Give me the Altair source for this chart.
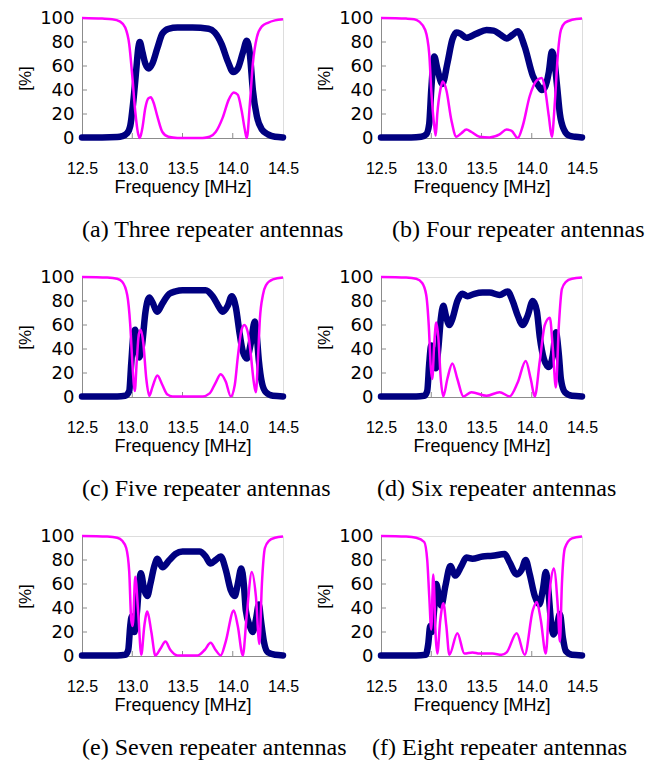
import altair as alt
import pandas as pd

NAVY = "#000080"
MAGENTA = "#ff00ff"
GRAY = "#8c8c8c"

X_TICKS = [12.5, 13.0, 13.5, 14.0, 14.5]
Y_TICKS = [0, 20, 40, 60, 80, 100]
X_INNER = [13.0, 13.5, 14.0]
Y_INNER = [20, 40, 60, 80]

captions = [
    "(a) Three repeater antennas",
    "(b) Four repeater antennas",
    "(c) Five repeater antennas",
    "(d) Six repeater antennas",
    "(e) Seven repeater antennas",
    "(f) Eight repeater antennas",
]
caption_dx = [0, 11, 0, -4, 0, -9]

# (a) three repeaters: transmission (navy) and reflection (magenta)
fa_t = [12.5, 12.7, 12.85, 12.9, 12.95, 12.98, 13.01, 13.04, 13.06, 13.075, 13.1, 13.13, 13.165, 13.2, 13.25, 13.3,
        13.36, 13.45, 13.6, 13.76, 13.82, 13.89, 13.95, 14.005, 14.05, 14.1, 14.14, 14.17, 14.2, 14.24, 14.29, 14.35, 14.42, 14.5]
va_t = [0.5, 0.5, 0.8, 1.5, 4, 10, 30, 57, 75, 80, 72, 62, 58, 62, 75, 87,
        91, 92, 92, 91, 88, 78, 64, 55, 58, 71, 81, 70, 40, 18, 7, 3, 1, 0.5]
fa_r = [12.5, 12.7, 12.8, 12.88, 12.93, 12.97, 13.0, 13.03, 13.055, 13.075, 13.1, 13.13, 13.16, 13.185, 13.21, 13.25,
        13.3, 13.36, 13.45, 13.7, 13.77, 13.83, 13.9, 13.96, 14.01, 14.05, 14.09, 14.12, 14.14, 14.17, 14.2, 14.24,
        14.29, 14.35, 14.42, 14.5]
va_r = [100, 99.5, 99, 97, 92, 78, 52, 22, 5, 0, 8, 25, 33, 34, 30, 18,
        5, 1, 0, 0, 1, 5, 17, 32, 38, 36, 22, 7, 0, 28, 62, 84,
        93, 96, 98, 99]

# (b) four repeaters
fb_t = [12.5, 12.8, 12.9, 12.95, 12.98, 13.0, 13.03, 13.06, 13.11, 13.16, 13.21, 13.25, 13.29, 13.35, 13.45, 13.55,
        13.62, 13.69, 13.75, 13.81, 13.86, 13.93, 14.01, 14.07, 14.1, 14.13, 14.17, 14.2, 14.22, 14.25, 14.28, 14.32,
        14.37, 14.43, 14.5]
vb_t = [0.5, 0.5, 1, 3, 12, 40, 68, 58, 45, 62, 82, 88, 87, 83.5, 87, 90,
        89.5, 86, 83, 86, 89, 76, 52, 43, 40, 42, 55, 72, 68, 45, 20, 7,
        2, 1, 0.5]
fb_r = [12.5, 12.75, 12.83, 12.88, 12.94, 12.98, 13.0, 13.03, 13.045, 13.06, 13.09, 13.115, 13.15, 13.2, 13.25, 13.3,
        13.35, 13.4, 13.48, 13.58, 13.68, 13.75, 13.8, 13.86, 13.91, 13.98, 14.05, 14.1, 14.13, 14.17, 14.2, 14.23,
        14.26, 14.29, 14.33, 14.4, 14.5]
vb_r = [100, 99.5, 99, 97, 90, 70, 40, 10, 2, 20, 40, 47, 40, 15, 1, 4,
        7, 5, 1, 0.5, 3, 7, 6, 0, 10, 35, 48, 50, 42, 18, 1, 30,
        70, 90, 96, 98.5, 99.5]

# (c) five repeaters
fc_t = [12.5, 12.85, 12.93, 12.97, 12.99, 13.01, 13.03, 13.05, 13.07, 13.1, 13.13, 13.17, 13.2, 13.25, 13.3, 13.37,
        13.43, 13.5, 13.73, 13.8, 13.87, 13.9, 13.95, 13.99, 14.03, 14.07, 14.1, 14.14, 14.18, 14.22, 14.24, 14.26,
        14.29, 14.33, 14.4, 14.5]
vc_t = [0.5, 0.5, 1, 5, 28, 50, 56, 42, 33, 45, 70, 83, 79, 71, 78, 86,
        88, 89, 89, 84, 74, 71, 76, 84, 75, 52, 38, 32, 45, 63, 50, 30,
        12, 4, 1, 0.5]
fc_r = [12.5, 12.75, 12.85, 12.9, 12.95, 12.98, 13.0, 13.025, 13.045, 13.065, 13.085, 13.11, 13.14, 13.17, 13.2, 13.25,
        13.3, 13.35, 13.4, 13.7, 13.77, 13.83, 13.88, 13.93, 13.98, 14.02, 14.05, 14.085, 14.115, 14.15, 14.18, 14.21,
        14.23, 14.25, 14.27, 14.3, 14.33, 14.4, 14.5]
vc_r = [100, 99.5, 98.5, 96, 85, 60, 30, 5, 30, 52, 56, 45, 15, 1, 8, 18,
        10, 2, 0.5, 0.5, 3, 12, 19, 13, 0.5, 10, 33, 55, 60, 54, 35, 12,
        4, 30, 65, 85, 93, 98, 99.5]

# (d) six repeaters
fd_t = [12.5, 12.85, 12.93, 12.96, 12.98, 13.0, 13.02, 13.045, 13.07, 13.095, 13.12, 13.145, 13.18, 13.21, 13.26, 13.31,
        13.36, 13.43, 13.51, 13.58, 13.68, 13.76, 13.81, 13.86, 13.91, 13.96, 14.01, 14.05, 14.08, 14.12, 14.17, 14.21,
        14.24, 14.27, 14.29, 14.33, 14.4, 14.5]
vd_t = [0.5, 0.5, 1, 5, 28, 43, 32, 24, 40, 65, 76, 68, 60, 65, 80, 86,
        84, 86, 87, 87, 85, 88, 80, 68, 60, 68, 80, 72, 50, 32, 25, 35,
        54, 35, 15, 4, 1, 0.5]
fd_r = [12.5, 12.75, 12.85, 12.91, 12.95, 12.975, 12.995, 13.01, 13.03, 13.05, 13.07, 13.095, 13.12, 13.16, 13.21, 13.26,
        13.32, 13.4, 13.55, 13.68, 13.78, 13.86, 13.94, 13.99, 14.03, 14.08, 14.13, 14.18, 14.21, 14.24, 14.27, 14.3,
        14.34, 14.4, 14.5]
vd_r = [100, 99.5, 98.5, 95, 85, 60, 25, 15, 45, 62, 50, 15, 0.5, 15, 28, 15,
        0.5, 4, 1, 4, 0.5, 12, 30, 15, 0.5, 30, 60, 66, 40, 8, 60, 90,
        96, 98.5, 99.5]

# (e) seven repeaters
fe_t = [12.5, 12.85, 12.93, 12.96, 12.98, 12.995, 13.02, 13.045, 13.07, 13.085, 13.12, 13.15, 13.18, 13.22, 13.25, 13.3,
        13.37, 13.43, 13.5, 13.67, 13.73, 13.78, 13.83, 13.88, 13.93, 13.98, 14.02, 14.05, 14.085, 14.11, 14.13, 14.17,
        14.2, 14.23, 14.26, 14.28, 14.31, 14.35, 14.42, 14.5]
ve_t = [0.5, 0.5, 1, 5, 25, 33, 20, 35, 62, 69, 55, 50, 60, 75, 81, 74,
        80, 85, 87, 87, 83, 77, 80, 83, 72, 55, 50, 60, 73, 60, 38, 25,
        20, 30, 43, 30, 12, 3, 1, 0.5]
fe_r = [12.5, 12.75, 12.85, 12.9, 12.94, 12.97, 12.99, 13.005, 13.03, 13.06, 13.09, 13.12, 13.15, 13.19, 13.23, 13.28,
        13.33, 13.38, 13.45, 13.65, 13.72, 13.78, 13.83, 13.88, 13.93, 14.01, 14.05, 14.1, 14.14, 14.19, 14.23, 14.265,
        14.29, 14.32, 14.36, 14.42, 14.5]
ve_r = [100, 99.5, 98.5, 96, 90, 70, 30, 25, 66, 35, 1, 25, 37, 20, 0.5, 6,
        12, 5, 0.5, 0.5, 5, 11, 5, 0.5, 12, 38, 25, 0.5, 35, 70, 50, 10,
        60, 90, 96, 98.5, 99.5]

# (f) eight repeaters
ff_t = [12.5, 12.85, 12.945, 12.97, 12.99, 13.005, 13.03, 13.05, 13.075, 13.1, 13.14, 13.19, 13.24, 13.3,
        13.35, 13.41, 13.51, 13.61, 13.73, 13.78, 13.85, 13.9, 13.94, 13.98, 14.03, 14.075, 14.11, 14.14, 14.165, 14.19,
        14.215, 14.25, 14.28, 14.31, 14.34, 14.4, 14.5]
vf_t = [0.5, 0.5, 1, 10, 25, 20, 40, 60, 50, 42, 58, 75, 67, 75,
        82, 81, 83, 83.5, 85, 78, 68, 72, 80, 68, 50, 43, 55, 70, 55, 30,
        18, 25, 35, 15, 4, 1, 0.5]
ff_r = [12.5, 12.75, 12.85, 12.93, 12.96, 12.98, 13.0, 13.02, 13.045, 13.06, 13.09, 13.12, 13.15, 13.18, 13.26, 13.33,
        13.41, 13.48, 13.61, 13.7, 13.75, 13.85, 13.93, 14.01, 14.05, 14.09, 14.14, 14.18, 14.22, 14.26, 14.28, 14.3,
        14.33, 14.4, 14.5]
vf_r = [100, 99.5, 98.5, 95, 80, 50, 22, 68, 15, 2, 30, 44, 25, 1, 19, 2,
        3, 2, 2, 1, 3, 19, 1, 38, 45, 30, 2, 55, 73, 40, 12, 60,
        90, 98, 99.5]

series = [
    (fa_t, va_t, fa_r, va_r),
    (fb_t, vb_t, fb_r, vb_r),
    (fc_t, vc_t, fc_r, vc_r),
    (fd_t, vd_t, fd_r, vd_r),
    (fe_t, ve_t, fe_r, ve_r),
    (ff_t, vf_t, ff_r, vf_r),
]

W, H = 201, 120

x_enc = alt.X(
    "f:Q",
    scale=alt.Scale(domain=[12.5, 14.5], nice=False, zero=False),
    axis=alt.Axis(
        values=X_TICKS, format=".1f", title="Frequency [MHz]", grid=False,
        ticks=False, tickSize=0, domainColor=GRAY,
        labelFont="Liberation Sans Narrow, Liberation Sans, sans-serif", labelFontSize=16,
        labelColor="black", labelPadding=22, labelFlush=False, labelOverlap=False,
        titleFont="Liberation Sans", titleFontSize=18, titleFontWeight="normal",
        titleColor="black", titlePadding=2,
    ),
)
y_enc = alt.Y(
    "v:Q",
    scale=alt.Scale(domain=[0, 100], nice=False),
    axis=alt.Axis(
        values=Y_TICKS, title="[%]", grid=False, ticks=False, tickSize=0,
        domainColor=GRAY, labelFont="DejaVu Sans", labelFontSize=18,
        labelColor="black", labelPadding=8,
        titleFont="Liberation Sans", titleFontSize=17, titleFontWeight="normal",
        titleColor="black", titlePadding=5,
    ),
)

panels = []
for i, (ft, vt, fr, vr) in enumerate(series):
    df_t = pd.DataFrame({"f": ft, "v": vt})
    df_r = pd.DataFrame({"f": fr, "v": vr})
    t_line = alt.Chart(df_t).mark_line(
        color=NAVY, strokeWidth=6.5, interpolate="monotone", strokeCap="round", strokeJoin="round"
    ).encode(x=x_enc, y=y_enc)
    r_line = alt.Chart(df_r).mark_line(
        color=MAGENTA, strokeWidth=2.5, interpolate="monotone"
    ).encode(x=x_enc, y=y_enc)
    x_ticks = alt.Chart(pd.DataFrame({"f": X_INNER})).mark_rule(color=GRAY, strokeWidth=1).encode(
        x=x_enc, y=alt.value(H), y2=alt.value(H - 5)
    )
    y_ticks = alt.Chart(pd.DataFrame({"v": Y_INNER})).mark_rule(color=GRAY, strokeWidth=1).encode(
        y=y_enc, x=alt.value(0), x2=alt.value(5)
    )
    panel = alt.layer(x_ticks, y_ticks, t_line, r_line).properties(
        width=W, height=H,
        title=alt.TitleParams(
            captions[i], orient="bottom", anchor="start", frame="group", dx=caption_dx[i], offset=22,
            font="Liberation Serif", fontSize=24, fontWeight="normal", color="black",
        ),
    )
    panels.append(panel)

chart = alt.concat(
    *panels, columns=2, spacing={"row": 139, "column": 98}, bounds="flush"
).properties(
    padding={"left": 8, "top": 0, "right": 0, "bottom": 0}
).configure_view(
    stroke=GRAY, strokeWidth=1
).configure(background="white")

chart.save("out.html", embed_options={"renderer": "svg", "actions": False})
